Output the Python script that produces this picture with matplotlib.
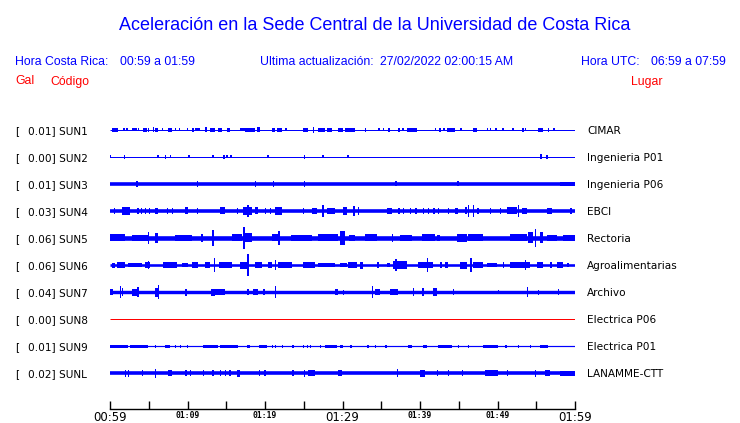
import matplotlib
matplotlib.use("Agg")
import matplotlib.pyplot as plt

# ---------- data ----------
codes  = ["SUN1", "SUN2", "SUN3", "SUN4", "SUN5", "SUN6", "SUN7", "SUN8", "SUN9", "SUNL"]
peaks  = ["0.01", "0.00", "0.01", "0.03", "0.06", "0.06", "0.04", "0.00", "0.01", "0.02"]
places = ["CIMAR", "Ingenieria P01", "Ingenieria P06", "EBCI", "Rectoria",
          "Agroalimentarias", "Archivo", "Electrica P06", "Electrica P01", "LANAMME-CTT"]
# background trace half-thickness (px) and trace colour
base_px = [0.5, 0.5, 1.8, 1.8, 2.3, 1.3, 1.7, 0.5, 0.6, 1.8]
trace_col = ["b", "b", "b", "b", "b", "b", "b", "r", "b", "b"]

# bursts: (start minute, end minute, half amplitude px), minutes after 00:59
bursts_sun1 = [(0.3, 1.0, 1.7), (1.7, 1.7, 1.5), (2.1, 2.1, 1.5), (2.8, 3.5, 1.5), (3.6, 3.6, 1.5),
               (4.3, 4.8, 1.7), (4.9, 4.9, 2), (5.5, 5.5, 2.5), (5.8, 6.2, 1.7), (6.7, 6.7, 1.5),
               (7.5, 8.0, 1.7), (8.4, 8.4, 1.5), (8.9, 8.9, 1.5), (9.9, 9.9, 1.5), (10.6, 10.6, 2),
               (11.0, 11.6, 1.5), (12.3, 12.5, 2.5), (12.9, 13.5, 1.7), (13.9, 14.4, 1.7), (15.1, 15.5, 1.7),
               (16.8, 17.4, 1.5), (17.4, 18.7, 1.7), (19.0, 19.4, 2.5), (20.9, 21.3, 1.7), (21.5, 22.2, 1.7),
               (22.6, 22.6, 1.5), (24.9, 25.5, 1.7), (26.2, 26.2, 3), (26.8, 27.7, 1.7), (28.0, 28.6, 1.7),
               (29.4, 30.1, 1.7), (30.3, 31.6, 1.7), (32.9, 32.9, 2), (34.6, 34.6, 1.5), (35.2, 35.2, 1.5),
               (35.9, 35.9, 2), (37.2, 37.2, 2), (37.7, 37.7, 1.5), (38.3, 39.6, 1.7), (41.9, 41.9, 1.5),
               (42.5, 42.5, 2), (43.0, 43.0, 1.5), (43.5, 44.5, 1.7), (45.2, 45.2, 1.5), (46.8, 47.4, 1.7),
               (48.6, 48.6, 1.5), (49.0, 49.0, 1.5), (49.7, 49.7, 1.5), (50.6, 50.6, 1.5),
               (51.9, 51.9, 1.5), (53.2, 53.2, 2), (53.5, 53.5, 1.5), (55.2, 55.9, 1.7), (56.5, 56.5, 2),
               (57.2, 57.2, 1.5)]
bursts_sun2 = [(0.0, 0.0, 1.5), (1.8, 1.8, 2), (6.1, 6.1, 1.5), (7.1, 7.1, 2), (7.7, 7.7, 1.5),
               (10.1, 10.1, 1.5), (13.2, 13.2, 1.5), (14.6, 14.6, 2), (15.0, 15.0, 1.5),
               (15.5, 15.5, 1.5), (20.3, 20.3, 1.5), (25.0, 25.0, 2), (27.4, 27.4, 1.5),
               (30.6, 30.8, 1.5), (55.5, 55.5, 2.5), (56.3, 56.3, 2)]
bursts_sun3 = [(3.4, 3.4, 3), (11.2, 11.2, 3), (18.7, 18.7, 3), (21.0, 21.0, 3), (25.0, 25.0, 3),
               (36.8, 36.8, 2.5), (44.8, 44.8, 2.5), (58.0, 60.0, 2.3)]
bursts_sun4 = [(0.5, 0.5, 3), (1.5, 2.6, 4), (3.5, 3.5, 3), (4.0, 4.0, 3), (4.5, 4.5, 3),
               (5.0, 5.2, 3), (5.8, 6.2, 3), (7.3, 7.3, 3), (8.0, 8.0, 3), (9.7, 10.1, 3.5),
               (11.2, 11.2, 3), (14.2, 14.8, 3.5), (16.4, 16.4, 3), (17.2, 18.3, 4), (17.7, 17.7, 6),
               (18.7, 19.1, 3.5), (20.0, 20.0, 3), (20.6, 20.6, 3), (21.3, 22.2, 4), (24.9, 24.9, 3),
               (26.1, 26.7, 3), (27.4, 27.4, 6), (28.0, 29.0, 2.7), (30.1, 30.6, 4), (31.4, 31.4, 5),
               (32.0, 32.0, 4), (35.7, 36.4, 2.7), (37.2, 37.2, 3), (37.8, 37.8, 3), (38.7, 38.7, 3),
               (39.4, 39.4, 3), (40.4, 40.4, 3), (41.0, 41.0, 3), (41.7, 41.7, 3), (42.3, 42.3, 3),
               (43.6, 43.6, 3), (44.5, 44.9, 3), (45.8, 46.1, 3.5), (46.2, 46.2, 6), (46.8, 46.8, 6),
               (47.4, 47.4, 3), (49.0, 49.0, 3), (50.3, 50.3, 3), (51.2, 52.5, 3.5), (52.6, 52.6, 6),
               (53.2, 53.8, 3), (56.4, 57.0, 3), (59.4, 59.4, 3)]
bursts_sun5 = [(0.0, 1.9, 3.5), (2.9, 4.9, 3.2), (4.9, 4.9, 6), (5.8, 6.2, 5), (8.4, 10.6, 3.2),
               (11.8, 11.8, 4), (13.2, 13.2, 8), (15.7, 17.0, 3.5), (17.2, 17.2, 11), (17.4, 18.3, 4.5),
               (20.9, 21.7, 3.5), (21.7, 21.7, 7), (23.4, 26.0, 3.2), (26.8, 29.4, 3.5), (29.7, 30.3, 7),
               (30.9, 31.6, 3.2), (32.9, 34.5, 3.5), (36.4, 36.4, 4), (37.4, 39.0, 3.2), (40.3, 41.9, 3.5),
               (42.2, 42.6, 3), (44.8, 46.1, 4), (46.2, 48.1, 3.5), (51.6, 53.8, 3.5), (53.9, 54.6, 5.5),
               (54.8, 54.8, 9), (55.5, 55.9, 5.5), (56.4, 57.7, 3), (58.5, 60.0, 3.2)]
bursts_sun6 = [(0.3, 0.6, 2.5), (0.9, 1.9, 2.7), (2.3, 4.1, 2.3), (4.5, 5.2, 2.7), (4.9, 4.9, 4),
               (6.8, 8.6, 2.7), (9.3, 10.1, 2.3), (10.6, 11.4, 3), (12.3, 12.9, 2.7), (13.4, 13.4, 7),
               (14.0, 15.7, 2.7), (16.8, 17.7, 3.5), (17.7, 17.7, 11), (18.7, 19.6, 2.7), (20.4, 20.9, 2.7),
               (21.3, 21.3, 5), (21.7, 23.5, 2.7), (24.9, 26.5, 2.7), (26.8, 29.0, 2.3), (29.7, 30.6, 2.3),
               (30.7, 31.9, 2.7), (32.3, 32.7, 3.5), (34.5, 34.5, 3), (35.7, 36.1, 2.3), (36.5, 38.3, 4),
               (36.8, 36.8, 6), (39.7, 41.7, 3), (40.9, 40.9, 7), (42.6, 42.6, 3), (43.2, 43.6, 3),
               (45.2, 46.1, 3.5), (46.5, 46.5, 7), (46.8, 48.1, 2.7), (48.6, 49.9, 2.3), (50.7, 50.7, 3),
               (51.6, 54.2, 2.7), (53.5, 53.5, 5), (55.1, 55.9, 3), (56.8, 56.8, 3), (57.7, 58.5, 2.7),
               (59.0, 59.0, 2)]
bursts_sun7 = [(0.0, 0.4, 3), (1.3, 1.3, 6), (1.5, 1.5, 4), (2.8, 3.5, 3.5), (3.5, 3.5, 5),
               (5.8, 6.2, 4.5), (6.2, 6.2, 7), (9.7, 9.7, 3.5), (13.0, 13.5, 3.5), (13.5, 14.8, 2.7),
               (17.7, 17.7, 3), (18.5, 19.1, 3), (19.8, 20.0, 3), (21.3, 21.3, 6), (29.0, 29.4, 3),
               (30.0, 30.1, 2.5), (33.8, 33.8, 6), (34.2, 34.8, 3), (36.1, 37.2, 3),
               (39.1, 39.1, 4), (40.3, 40.3, 4), (41.7, 42.2, 4), (44.2, 44.2, 3), (50.0, 50.0, 2),
               (53.8, 53.8, 5), (55.2, 55.2, 2.5), (57.8, 57.8, 3)]
bursts_sun8 = []
bursts_sun9 = [(0.0, 2.3, 1.5), (2.6, 4.9, 1.5), (5.8, 5.8, 1.5), (7.1, 7.7, 1.5), (8.4, 8.4, 1.5),
               (9.0, 9.0, 1.5), (9.9, 9.9, 1.5), (12.0, 13.9, 1.5), (14.2, 16.5, 1.5), (17.7, 18.1, 1.5),
               (19.2, 20.3, 1.5), (20.9, 20.9, 1.5), (21.3, 21.3, 1.5), (22.2, 22.2, 1.5),
               (23.5, 23.5, 1.5), (24.9, 24.9, 1.5), (25.4, 25.4, 1.5), (25.8, 25.8, 1.5),
               (27.1, 27.1, 1.5), (27.7, 29.3, 1.5), (29.7, 30.1, 1.5), (31.0, 31.0, 1.5),
               (33.2, 33.2, 1.5), (34.2, 34.2, 1.5), (35.5, 35.5, 1.5), (38.5, 39.0, 1.5),
               (40.4, 40.9, 1.5), (42.3, 44.1, 1.5), (44.9, 44.9, 1.5), (46.2, 46.2, 1.5),
               (48.1, 50.1, 1.5), (51.0, 51.0, 1.5), (52.6, 52.6, 1.5), (54.2, 54.2, 1.5),
               (55.5, 56.5, 1.5)]
bursts_sunl = [(1.9, 1.9, 3.5), (2.3, 2.3, 3.5), (4.1, 4.1, 3), (5.8, 5.8, 4.5), (7.5, 8.0, 3),
               (9.7, 9.7, 3), (10.3, 10.3, 3), (12.0, 12.0, 3), (13.2, 13.2, 3), (14.2, 14.2, 3),
               (14.8, 14.8, 3), (15.4, 15.4, 3), (16.4, 16.8, 3.5), (19.2, 19.2, 3), (19.9, 19.9, 3),
               (23.5, 23.5, 3), (25.0, 25.0, 3.5), (25.5, 26.5, 3), (29.4, 29.9, 2.7), (37.0, 37.0, 4),
               (40.0, 40.6, 3.5), (42.2, 42.2, 3), (43.6, 43.6, 3), (45.4, 45.4, 3), (48.4, 50.1, 2.7),
               (51.2, 51.2, 3), (54.8, 54.8, 3.5), (56.1, 56.8, 3), (58.0, 60.0, 2.5)]
bursts = [bursts_sun1, bursts_sun2, bursts_sun3, bursts_sun4, bursts_sun5,
          bursts_sun6, bursts_sun7, bursts_sun8, bursts_sun9, bursts_sunl]

tick_min = list(range(0, 61, 5))
big_labels = {0: "00:59", 30: "01:29", 60: "01:59"}
small_labels = {10: "01:09", 20: "01:19", 40: "01:39", 50: "01:49"}

# ---------- layout ----------
W, H = 740, 423
ROW_PX = 27
BLUE, RED = "#0000FF", "#FF0000"
HDR = "Liberation Sans"

fig = plt.figure(figsize=(W / 100, H / 100), dpi=100)
fx = lambda px: px / W
fy = lambda py: 1 - py / H

fig.text(fx(375), fy(29.5), "Aceleración en la Sede Central de la Universidad de Costa Rica",
         ha="center", va="baseline", fontsize=13, color=BLUE, family=HDR)
for x, s in [(15, "Hora Costa Rica:"), (120, "00:59 a 01:59"),
             (260, "Ultima actualización:"), (380, "27/02/2022 02:00:15 AM"),
             (581, "Hora UTC:"), (651, "06:59 a 07:59")]:
    fig.text(fx(x), fy(65), s, ha="left", va="baseline", fontsize=8.8, color=BLUE, family=HDR)
for x, s in [(15, "Gal"), (50, "Código"), (631, "Lugar")]:
    fig.text(fx(x), fy(84.5), s, ha="left", va="baseline", fontsize=8.8, color=RED, family=HDR)

# traces
ax = fig.add_axes([fx(110), fy(130 + 9.5 * ROW_PX), fx(465), 10 * ROW_PX / H])
ax.set_xlim(0, 60); ax.set_ylim(9.5, -0.5)
ax.axis("off")
for i, code in enumerate(codes):
    col = BLUE if trace_col[i] == "b" else RED
    ax.hlines(i, 0, 60, color=col, lw=max(2 * base_px[i], 1) * 0.72)
    for t0, t1, amp in bursts[i]:
        ax.bar(x=t0, height=2 * amp / ROW_PX, width=max(t1 - t0, 0.18), bottom=i - amp / ROW_PX,
               align="edge", color=col, linewidth=0)
    yb = fy(130 + i * ROW_PX + 4.3)
    fig.text(fx(15), yb, "[", va="baseline", fontsize=7.6, color="black")
    fig.text(fx(28), yb, f"{peaks[i]}] {code}", va="baseline", fontsize=7.6, color="black")
    fig.text(fx(587), yb, places[i], va="baseline", fontsize=7.6, color="black")

# time axis
tax = fig.add_axes([fx(110), fy(409), fx(465), 20 / H])
tax.set_xlim(0, 60)
for sp in ["top", "left", "right"]:
    tax.spines[sp].set_visible(False)
tax.spines["bottom"].set_linewidth(1.0)
tax.patch.set_visible(False)
tax.set_yticks([])
tax.set_xticks(tick_min)
tax.set_xticklabels([big_labels.get(t, small_labels.get(t, "")) for t in tick_min])
tax.tick_params(axis="x", direction="in", length=6, width=1.0, pad=1.5)
for t, lbl in zip(tick_min, tax.get_xticklabels()):
    if t in big_labels:
        lbl.set_fontsize(8.5)
    else:
        lbl.set_fontsize(5.8); lbl.set_family("DejaVu Sans Mono"); lbl.set_fontweight("bold")

fig.savefig("out.png", dpi=100)
